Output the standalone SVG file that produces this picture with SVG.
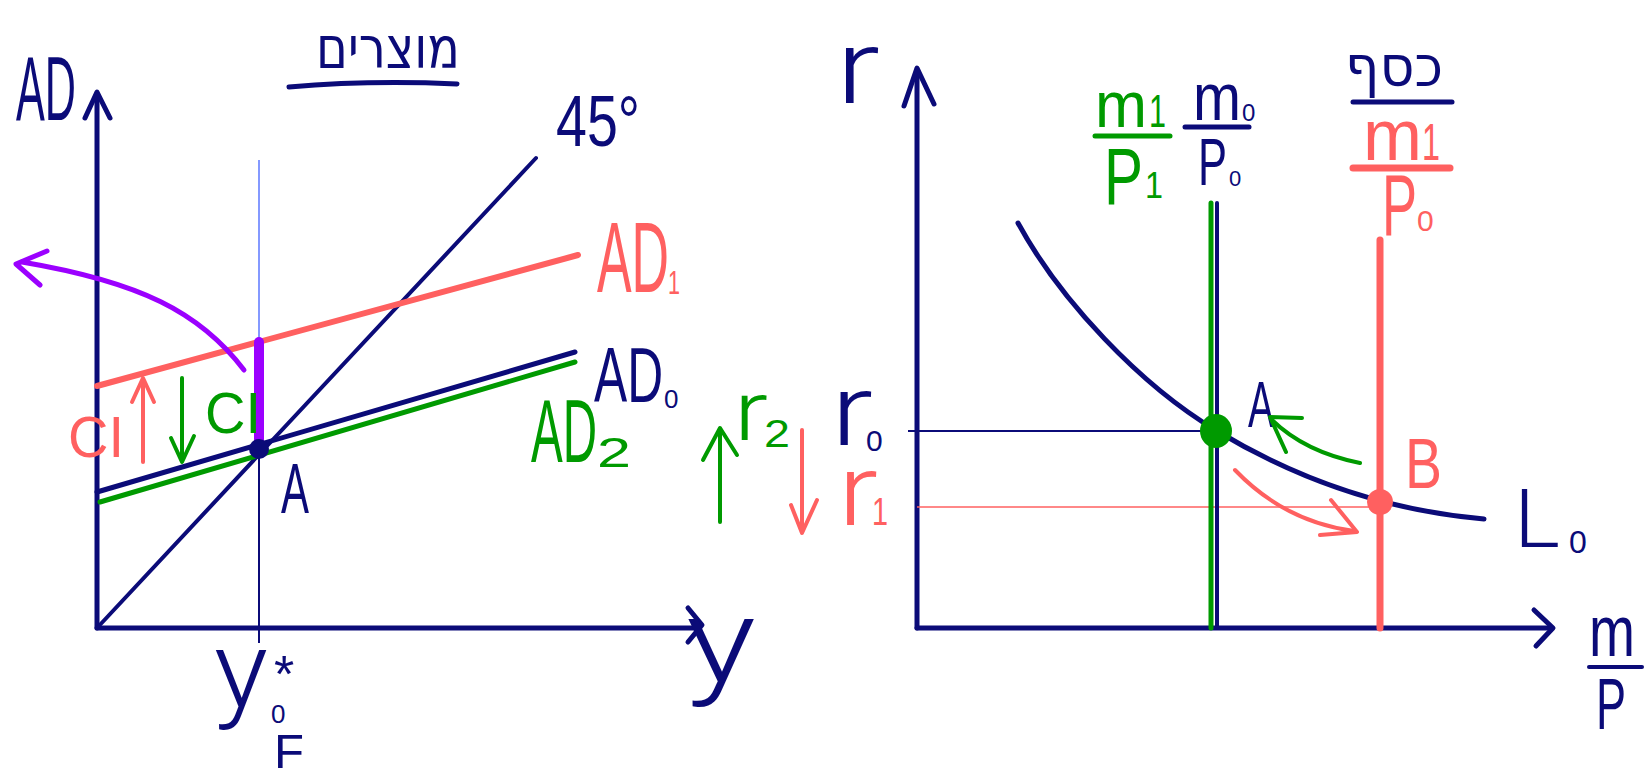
<svg xmlns="http://www.w3.org/2000/svg" width="1648" height="780" viewBox="0 0 1648 780">
<style>
  .nv{stroke:#0B0B78;fill:none;stroke-linecap:round;stroke-linejoin:round}
  .rd{stroke:#FF6060;fill:none;stroke-linecap:round;stroke-linejoin:round}
  .gr{stroke:#009A00;fill:none;stroke-linecap:round;stroke-linejoin:round}
  .pu{stroke:#9B00FF;fill:none;stroke-linecap:round;stroke-linejoin:round}
  text{font-family:"Liberation Sans","DejaVu Sans",sans-serif}
  .lt{font-family:Roboto,"Liberation Sans",sans-serif;font-weight:300}
  .tn{fill:#0B0B78}
  .tr{fill:#FF6060}
  .tg{fill:#009A00}
  .heb{font-family:"DejaVu Sans","Liberation Sans",sans-serif}
</style>
<rect width="1648" height="780" fill="#ffffff"/>

<!-- LEFT PANEL -->
<g id="left-axes">
  <line class="nv" x1="97" y1="628" x2="97" y2="96" stroke-width="5"/>
  <polyline class="nv" points="85,118 97,92 110,118" stroke-width="5"/>
  <line class="nv" x1="97" y1="628" x2="699" y2="628" stroke-width="5"/>
  <polyline class="nv" points="688,608 702,625 688,642" stroke-width="5"/>
  <text class="tn" x="16" y="120" font-size="90" textLength="60" lengthAdjust="spacingAndGlyphs">AD</text>
  <text class="tn lt" x="686" y="682" font-size="118" textLength="70" lengthAdjust="spacingAndGlyphs">y</text>
</g>
<g id="title-goods">
  <text class="tn heb" x="316" y="68" font-size="58" textLength="144" lengthAdjust="spacingAndGlyphs">מוצרים</text>
  <path class="nv" d="M289,87 Q370,80 457,84" stroke-width="5"/>
</g>
<g id="line-45">
  <line class="nv" x1="97" y1="628" x2="536" y2="158" stroke-width="4"/>
  <text class="tn" x="556" y="146" font-size="72" textLength="84" lengthAdjust="spacingAndGlyphs">45°</text>
</g>
<g id="y-star-line">
  <line x1="259" y1="160" x2="259" y2="342" stroke="#3355FF" stroke-width="1.2"/>
  <line x1="259" y1="447" x2="259" y2="643" stroke="#0B0B78" stroke-width="2"/>
  <text class="tn lt" x="214" y="707" font-size="108" textLength="54" lengthAdjust="spacingAndGlyphs">y</text>
  <text class="tn" x="274" y="692" font-size="52">*</text>
  <text class="tn" x="271" y="723" font-size="26">0</text>
  <text class="tn" x="274" y="768" font-size="48" textLength="30" lengthAdjust="spacingAndGlyphs">F</text>
</g>
<g id="AD1">
  <line class="rd" x1="97" y1="386" x2="578" y2="255" stroke-width="6"/>
  <text class="tr" x="597" y="292" font-size="100" textLength="72" lengthAdjust="spacingAndGlyphs">AD</text>
  <text class="tr" x="668" y="294" font-size="34" textLength="12" lengthAdjust="spacingAndGlyphs">1</text>
</g>
<g id="AD0">
  <line class="nv" x1="97" y1="492" x2="575" y2="352" stroke-width="5"/>
  <text class="tn" x="594" y="402" font-size="77" textLength="69" lengthAdjust="spacingAndGlyphs">AD</text>
  <text class="tn" x="664" y="408" font-size="26">0</text>
</g>
<g id="AD2">
  <line class="gr" x1="100" y1="502" x2="575" y2="362" stroke-width="5"/>
  <text class="tg" x="531" y="462" font-size="89" textLength="66" lengthAdjust="spacingAndGlyphs">AD</text>
  <text class="tg" x="597" y="467" font-size="42" textLength="34" lengthAdjust="spacingAndGlyphs">2</text>
</g>
<g id="point-A-left">
  <line class="pu" x1="259" y1="342" x2="259" y2="444" stroke-width="10"/>
  <circle cx="259" cy="449" r="10" fill="#0B0B78"/>
  <text class="tn" x="281" y="513" font-size="71" textLength="28" lengthAdjust="spacingAndGlyphs">A</text>
</g>
<g id="CI-labels">
  <text class="tr" x="68" y="457" font-size="58" textLength="56" lengthAdjust="spacingAndGlyphs">CI</text>
  <text class="tg" x="205" y="433" font-size="58" textLength="56" lengthAdjust="spacingAndGlyphs">CI</text>
</g>

<!-- RIGHT PANEL -->
<g id="right-axes">
  <line class="nv" x1="917" y1="628" x2="917" y2="72" stroke-width="5"/>
  <polyline class="nv" points="904,106 917,68 934,104" stroke-width="5"/>
  <line class="nv" x1="917" y1="628" x2="1551" y2="628" stroke-width="5"/>
  <polyline class="nv" points="1534,610 1553,628 1536,646" stroke-width="5"/>
  <text class="tn lt" x="836" y="103" font-size="104" textLength="44" lengthAdjust="spacingAndGlyphs">r</text>
  <text class="tn" x="1589" y="656" font-size="72" textLength="46" lengthAdjust="spacingAndGlyphs">m</text>
  <line class="nv" x1="1589" y1="667" x2="1642" y2="667" stroke-width="4"/>
  <text class="tn" x="1596" y="729" font-size="72" textLength="30" lengthAdjust="spacingAndGlyphs">P</text>
</g>
<g id="title-money">
  <text class="tn heb" x="1345" y="86" font-size="56" textLength="98" lengthAdjust="spacingAndGlyphs">כסף</text>
  <line class="nv" x1="1353" y1="102" x2="1452" y2="102" stroke-width="5"/>
</g>
<g id="L0">
  <path class="nv" d="M1018,223 C1060,300 1140,385 1217,431 C1290,475 1380,510 1484,519" stroke-width="5"/>
  <text class="tn lt" x="1514" y="547" font-size="82" textLength="46" lengthAdjust="spacingAndGlyphs">L</text>
  <text class="tn" x="1569" y="553" font-size="32">0</text>
</g>
<g id="r-levels">
  <line x1="908" y1="431" x2="1217" y2="431" stroke="#0B0B78" stroke-width="2"/>
  <line x1="917" y1="507" x2="1380" y2="507" stroke="#FF6060" stroke-width="1.5"/>
  <text class="tn lt" x="831" y="445" font-size="100" textLength="42" lengthAdjust="spacingAndGlyphs">r</text>
  <text class="tn" x="866" y="451" font-size="30">0</text>
  <text class="tr lt" x="838" y="525" font-size="100" textLength="40" lengthAdjust="spacingAndGlyphs">r</text>
  <text class="tr" x="872" y="525" font-size="38" textLength="16" lengthAdjust="spacingAndGlyphs">1</text>
  <text class="tg lt" x="734" y="440" font-size="84" textLength="34" lengthAdjust="spacingAndGlyphs">r</text>
  <text class="tg" x="764" y="447" font-size="38" textLength="26" lengthAdjust="spacingAndGlyphs">2</text>
</g>
<g id="supply-m0P0">
  <line class="nv" x1="1217" y1="203" x2="1217" y2="628" stroke-width="4"/>
  <text class="tn" x="1193" y="120" font-size="66" textLength="48" lengthAdjust="spacingAndGlyphs">m</text>
  <text class="tn" x="1242" y="121" font-size="24">0</text>
  <line class="nv" x1="1185" y1="127" x2="1249" y2="127" stroke-width="5"/>
  <text class="tn" x="1198" y="185" font-size="66" textLength="29" lengthAdjust="spacingAndGlyphs">P</text>
  <text class="tn" x="1229" y="186" font-size="22">0</text>
</g>
<g id="supply-m1P1">
  <line class="gr" x1="1211" y1="203" x2="1211" y2="628" stroke-width="5"/>
  <text class="tg" x="1095" y="127" font-size="64" textLength="52" lengthAdjust="spacingAndGlyphs">m</text>
  <text class="tg" x="1149" y="127" font-size="46" textLength="17" lengthAdjust="spacingAndGlyphs">1</text>
  <line class="gr" x1="1095" y1="136" x2="1170" y2="136" stroke-width="5"/>
  <text class="tg" x="1104" y="204" font-size="80" textLength="39" lengthAdjust="spacingAndGlyphs">P</text>
  <text class="tg" x="1145" y="198" font-size="36" textLength="18" lengthAdjust="spacingAndGlyphs">1</text>
</g>
<g id="supply-m1P0">
  <line class="rd" x1="1380" y1="240" x2="1380" y2="628" stroke-width="7"/>
  <text class="tr" x="1363" y="160" font-size="72" textLength="59" lengthAdjust="spacingAndGlyphs">m</text>
  <text class="tr" x="1422" y="160" font-size="52" textLength="18" lengthAdjust="spacingAndGlyphs">1</text>
  <line class="rd" x1="1353" y1="168" x2="1450" y2="168" stroke-width="7"/>
  <text class="tr" x="1382" y="235" font-size="87" textLength="35" lengthAdjust="spacingAndGlyphs">P</text>
  <text class="tr" x="1417" y="231" font-size="30">0</text>
</g>
<g id="point-A-right">
  <ellipse cx="1216" cy="431" rx="16" ry="17" fill="#009A00"/>
  <text class="tn" x="1248" y="427" font-size="65" textLength="26" lengthAdjust="spacingAndGlyphs">A</text>
</g>
<g id="point-B">
  <circle cx="1380" cy="502" r="13" fill="#FF6060"/>
  <text class="tr" x="1405" y="488" font-size="70" textLength="37" lengthAdjust="spacingAndGlyphs">B</text>
</g>

<!-- CONNECTORS / ARROWS -->
<g id="connectors">
  <path class="pu" d="M244,370 C200,312 140,282 22,262" stroke-width="5"/>
  <polyline class="pu" points="47,251 16,264 40,285" stroke-width="5"/>
  <line class="rd" x1="143" y1="462" x2="143" y2="380" stroke-width="4"/>
  <polyline class="rd" points="132,402 143,378 154,402" stroke-width="4"/>
  <line class="gr" x1="182" y1="378" x2="182" y2="460" stroke-width="4"/>
  <polyline class="gr" points="171,438 182,462 194,436" stroke-width="4"/>
  <line class="gr" x1="720" y1="522" x2="720" y2="430" stroke-width="4"/>
  <polyline class="gr" points="703,460 720,428 737,455" stroke-width="4"/>
  <line class="rd" x1="802" y1="430" x2="802" y2="530" stroke-width="4"/>
  <polyline class="rd" points="791,505 802,533 817,500" stroke-width="4"/>
  <path class="gr" d="M1360,463 Q1305,452 1272,420" stroke-width="4"/>
  <polyline class="gr" points="1286,452 1270,417 1302,418" stroke-width="4"/>
  <path class="rd" d="M1235,470 Q1285,522 1354,531" stroke-width="4"/>
  <polyline class="rd" points="1331,500 1357,532 1320,535" stroke-width="4"/>
</g>
</svg>
